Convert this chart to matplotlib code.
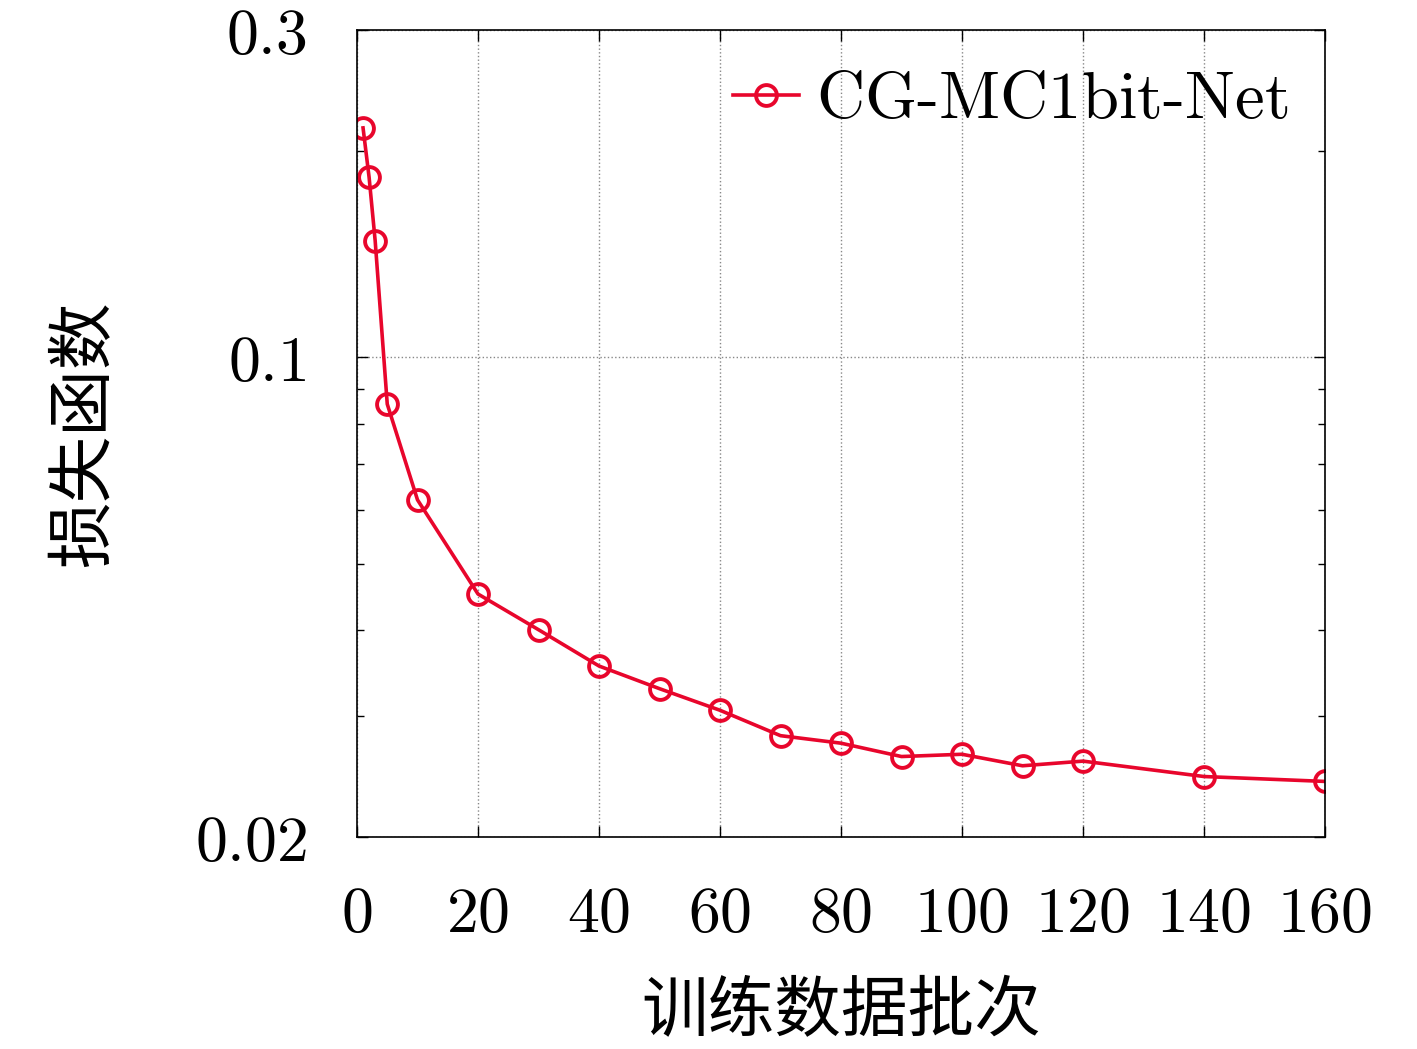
import numpy as np
import matplotlib.pyplot as plt
from matplotlib.ticker import FixedLocator, LogLocator, NullFormatter

plt.rcParams['mathtext.fontset'] = 'cm'
plt.rcParams['font.family'] = ['DejaVu Serif']

# data
batches = [1, 2, 3, 5, 10, 20, 30, 40, 50, 60, 70, 80, 90, 100, 110, 120, 140, 160]
loss = [0.216, 0.183, 0.148, 0.0855, 0.062, 0.0452, 0.0401, 0.0355, 0.0329, 0.0306,
        0.0281, 0.0274, 0.0262, 0.0264, 0.0254, 0.0258, 0.0245, 0.0241]
xticks = [0, 20, 40, 60, 80, 100, 120, 140, 160]
yticks = [0.02, 0.1, 0.3]
ytick_labels = ['0.02', '0.1', '0.3']
series_name = 'CG-MC1bit-Net'
xlabel = '训练数据批次'
ylabel = '损失函数'

fig = plt.figure(figsize=(14.17, 10.49), dpi=100)
ax = fig.add_axes([357 / 1417, 1 - 837 / 1049, (1325 - 357) / 1417, (837 - 30) / 1049])

color = '#e8062c'
ax.plot(batches, loss, color=color, lw=2.6, marker='o', ms=15, mfc='none',
        mec=color, mew=2.8, label=r'$\text{%s}$' % series_name)

ax.set_yscale('log')
ax.set_xlim(0, 160)
ax.set_ylim(0.02, 0.3)
ax.xaxis.set_major_locator(FixedLocator(xticks))
ax.set_xticklabels([r'$\mathrm{%d}$' % t for t in xticks])
ax.yaxis.set_major_locator(FixedLocator(yticks))
ax.set_yticklabels([r'$\mathrm{%s}$' % t for t in ytick_labels])
ax.yaxis.set_minor_locator(LogLocator(base=10, subs=np.arange(2, 10)))
ax.yaxis.set_minor_formatter(NullFormatter())

ax.tick_params(axis='both', which='both', direction='in', top=True, right=True,
               labelsize=46)
ax.tick_params(axis='y', which='major', pad=36)
ax.tick_params(axis='x', which='major', pad=34)
ax.tick_params(axis='both', which='major', length=8, width=1)
ax.tick_params(axis='y', which='minor', length=5, width=1)
ax.grid(True, which='major', linestyle=':', color='#888888', linewidth=1)

for s in ax.spines.values():
    s.set_linewidth(1.2)

ax.set_xlabel(xlabel, fontsize=48, family='Noto Sans CJK SC', labelpad=24)
ax.set_ylabel(ylabel, fontsize=48, family='Noto Sans CJK SC', labelpad=55)

leg = ax.legend(loc='upper right', frameon=False, fontsize=48, handlelength=1.0,
                handletextpad=0.25, borderaxespad=0.15, borderpad=0.4)

fig.savefig('out.png', dpi=100)
